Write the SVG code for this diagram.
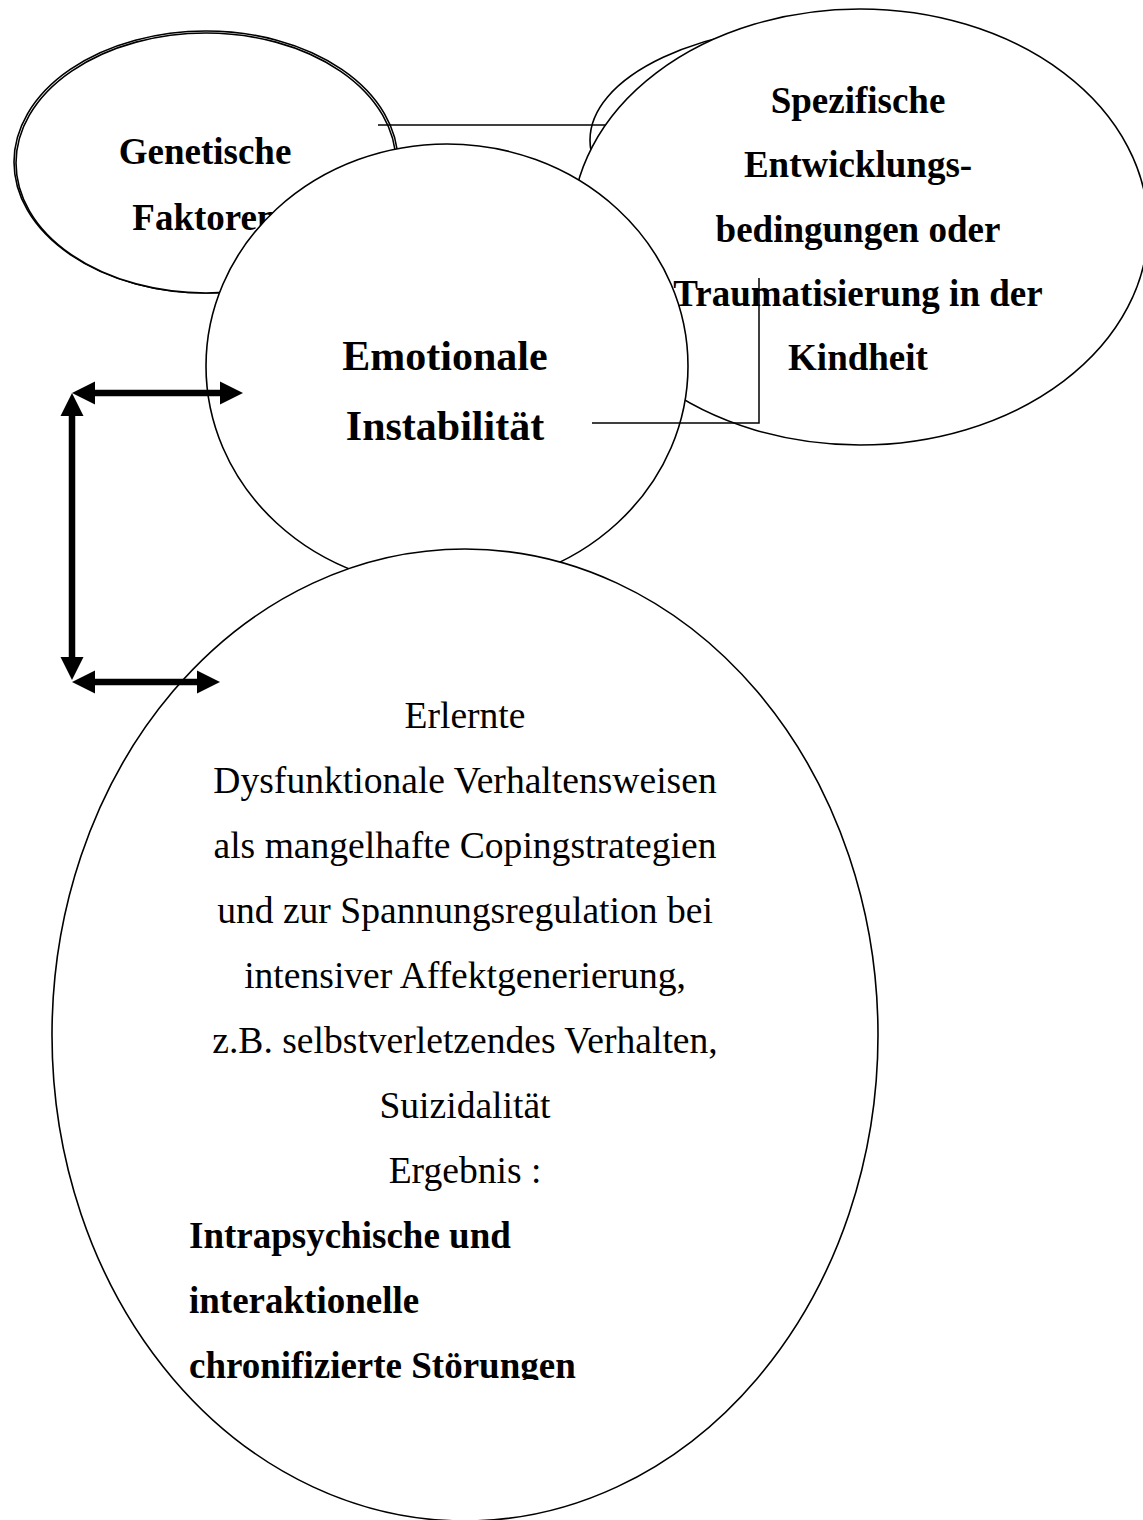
<svg xmlns="http://www.w3.org/2000/svg" width="1143" height="1520" viewBox="0 0 1143 1520">
  <style>
    .shape { fill: #ffffff; stroke: #000000; stroke-width: 1.6; }
    .bold { font-family: "Liberation Serif", "Times New Roman", serif; font-weight: bold; font-size: 37px; fill: #000000; }
    .bold-l { font-family: "Liberation Serif", "Times New Roman", serif; font-weight: bold; font-size: 42px; fill: #000000; }
    .reg { font-family: "Liberation Serif", "Times New Roman", serif; font-size: 37.6px; fill: #000000; }
    .thin { fill: none; stroke: #000000; stroke-width: 1.5; }
    .thick { fill: none; stroke: #000000; stroke-width: 6.5; marker-start: url(#ah); marker-end: url(#ah); }
  </style>
  <defs>
    <marker id="ah" markerUnits="userSpaceOnUse" markerWidth="24" markerHeight="26" viewBox="0 -13 24 26" refX="0" refY="0" orient="auto-start-reverse">
      <path d="M0,-11.5 L23,0 L0,11.5 Z" fill="#000000"/>
    </marker>
    <clipPath id="clipBottom">
      <rect x="0" y="0" width="1143" height="1380"/>
    </clipPath>
  </defs>

  <g id="node-genetische">
    <ellipse class="shape" cx="206" cy="162" rx="192" ry="131"/>
    <ellipse class="shape" cx="206" cy="163" rx="190" ry="130"/>
    <text class="bold" x="205" y="164" text-anchor="middle">Genetische</text>
    <text class="bold" x="205" y="230" text-anchor="middle">Faktoren</text>
  </g>

  <g id="node-entwicklung-shape">
    <ellipse class="shape" cx="840" cy="140" rx="250" ry="117"/>
    <ellipse class="shape" cx="860" cy="227" rx="288" ry="218"/>
  </g>

  <g id="node-emotionale">
    <ellipse class="shape" cx="447" cy="366" rx="241" ry="222"/>
    <text class="bold-l" x="445" y="370" text-anchor="middle">Emotionale</text>
    <text class="bold-l" x="445" y="440" text-anchor="middle">Instabilität</text>
  </g>

  <g id="node-entwicklung-text">
    <text class="bold" x="858" y="113" text-anchor="middle">Spezifische</text>
    <text class="bold" x="858" y="177" text-anchor="middle">Entwicklungs-</text>
    <text class="bold" x="858" y="242" text-anchor="middle">bedingungen oder</text>
    <text class="bold" x="858" y="306" text-anchor="middle">Traumatisierung in der</text>
    <text class="bold" x="858" y="370" text-anchor="middle">Kindheit</text>
  </g>

  <g id="node-erlernte">
    <ellipse class="shape" cx="465" cy="1035" rx="413" ry="486"/>
    <text class="reg" x="465" y="728" text-anchor="middle">Erlernte</text>
    <text class="reg" x="465" y="793" text-anchor="middle">Dysfunktionale Verhaltensweisen</text>
    <text class="reg" x="465" y="858" text-anchor="middle">als mangelhafte Copingstrategien</text>
    <text class="reg" x="465" y="923" text-anchor="middle">und zur Spannungsregulation bei</text>
    <text class="reg" x="465" y="988" text-anchor="middle">intensiver Affektgenerierung,</text>
    <text class="reg" x="465" y="1053" text-anchor="middle">z.B. selbstverletzendes Verhalten,</text>
    <text class="reg" x="465" y="1118" text-anchor="middle">Suizidalität</text>
    <text class="reg" x="465" y="1183" text-anchor="middle">Ergebnis :</text>
    <g clip-path="url(#clipBottom)">
      <text class="bold" x="189" y="1248">Intrapsychische und</text>
      <text class="bold" x="189" y="1313">interaktionelle</text>
      <text class="bold" x="189" y="1378">chronifizierte Störungen</text>
    </g>
  </g>

  <g id="connectors">
    <line class="thin" x1="378" y1="125" x2="605" y2="125"/>
    <polyline class="thin" points="592,423 759,423 759,278"/>
    <line class="thick" x1="95" y1="393" x2="220" y2="393"/>
    <line class="thick" x1="72" y1="416" x2="72" y2="657"/>
    <line class="thick" x1="95" y1="682" x2="197" y2="682"/>
  </g>
</svg>
